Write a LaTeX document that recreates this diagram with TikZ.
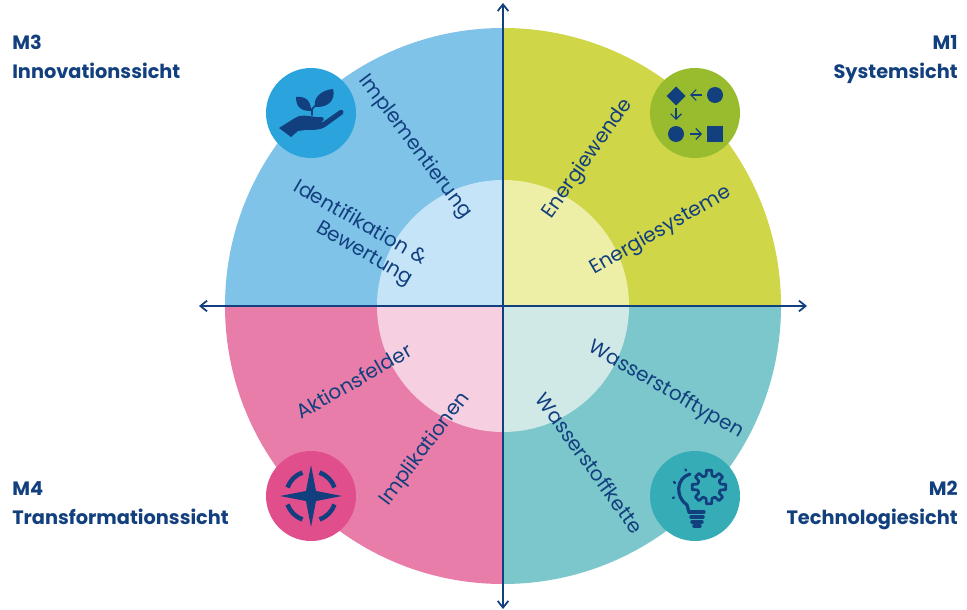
\documentclass[tikz,border=0pt]{standalone}
\usepackage{fontspec}
\setmainfont{Poppins}
\usetikzlibrary{arrows.meta}
\definecolor{navy}{HTML}{123F7E}
\definecolor{qyo}{HTML}{CFD648}\definecolor{qyi}{HTML}{EEEFA6}\definecolor{qyc}{HTML}{98BC2E}
\definecolor{qto}{HTML}{7BC7CB}\definecolor{qti}{HTML}{D0E8E6}\definecolor{qtc}{HTML}{36ADB6}
\definecolor{qpo}{HTML}{E87DAA}\definecolor{qpi}{HTML}{F6CFE1}\definecolor{qpc}{HTML}{E04E8C}
\definecolor{qbo}{HTML}{7FC3E9}\definecolor{qbi}{HTML}{C5E4F8}\definecolor{qbc}{HTML}{2BA3DC}
\tikzset{
 x=0.75pt,y=-0.75pt,
 axisline/.style={draw=navy,line width=1.3pt,{Straight Barb[length=5pt,width=8pt]}-{Straight Barb[length=5pt,width=8pt]}},
 seglabel/.style={text=navy,font=\fontsize{15}{18}\selectfont,align=center,inner sep=0pt},
 headlabel/.style={text=navy,font=\fontsize{14.5}{21.75}\bfseries\selectfont,inner sep=0pt},
 iconarrow/.style={draw=navy,line width=0.9pt,-{Straight Barb[length=4pt,width=8pt]}},
 iconline/.style={draw=navy,line width=1.7pt,line cap=round},
}
\begin{document}
\begin{tikzpicture}
\useasboundingbox (0,0) rectangle (967,610);
\coordinate (c) at (503,306);
% outer quadrants
\fill[qyo] (c) -- (781,306) arc[start angle=0,end angle=-90,x radius=278,y radius=278] -- cycle;
\fill[qto] (c) -- (503,584) arc[start angle=90,end angle=0,x radius=278,y radius=278] -- cycle;
\fill[qpo] (c) -- (225,306) arc[start angle=180,end angle=90,x radius=278,y radius=278] -- cycle;
\fill[qbo] (c) -- (503,28) arc[start angle=-90,end angle=-180,x radius=278,y radius=278] -- cycle;
% inner quadrants
\fill[qyi] (c) -- (629,306) arc[start angle=0,end angle=-90,x radius=126,y radius=126] -- cycle;
\fill[qti] (c) -- (503,432) arc[start angle=90,end angle=0,x radius=126,y radius=126] -- cycle;
\fill[qpi] (c) -- (377,306) arc[start angle=180,end angle=90,x radius=126,y radius=126] -- cycle;
\fill[qbi] (c) -- (503,180) arc[start angle=-90,end angle=-180,x radius=126,y radius=126] -- cycle;
% axes
\coordinate (axL) at (199,306);\coordinate (axR) at (807,306);
\coordinate (axT) at (503,3);\coordinate (axB) at (503,609);
\draw[axisline] (axL) -- (axR);
\draw[axisline] (axT) -- (axB);
% icon discs
\node[circle,fill=qyc,minimum size=67.5pt,inner sep=0pt] (i1) at (695,113) {};
\node[circle,fill=qtc,minimum size=67.5pt,inner sep=0pt] (i2) at (695,496) {};
\node[circle,fill=qbc,minimum size=67.5pt,inner sep=0pt] (i3) at (311,113) {};
\node[circle,fill=qpc,minimum size=67.5pt,inner sep=0pt] (i4) at (311,496) {};
% M1 icon
\fill[navy] (676,86.5) -- (685.5,96) -- (676,105.5) -- (666.5,96) -- cycle;
\fill[navy] (715,95) circle[radius=8];
\fill[navy] (676,134) circle[radius=8];
\fill[navy] (707,126) rectangle (723,142);
\draw[iconarrow] (702,95) -- (690,95);
\draw[iconarrow] (676,108) -- (676,120);
\draw[iconarrow] (690,134) -- (702,134);
% M2 icon: gear
\begin{scope}[shift={(709,487)}]
\foreach \a in {0,45,...,315}{
 \draw[iconline,line width=2pt,line join=round] (\a-22.5:11.5) -- (\a-14:12) -- (\a-9:17) -- (\a+9:17) -- (\a+14:12) -- (\a+22.5:11.5);
}
\end{scope}
% M2 icon: bulb
\draw[iconline,line width=2.4pt] (690,474) .. controls (676,478) and (675,497) .. (687,505) -- (689,512);
\draw[iconline,line width=2.4pt] (689,512) -- (704,512);
\draw[iconline,line width=2.6pt] (691,517) -- (703,517);
\draw[iconline,line width=2.6pt] (692,522) -- (702,522);
\draw[iconline,line width=2.6pt] (694,526) -- (700,526);
\draw[iconline] (685.5,469.5) -- (686,470.5);
\draw[iconline] (674,482) -- (675,483);
\draw[iconline] (673,498) -- (674,497.5);
% M3 icon
\fill[navy] (279,128) -- (295,118) .. controls (300,114) and (308,116) .. (316,117) -- (322,117) .. controls (325,118) and (324,122) .. (320,122) -- (310,122) -- (323,122) -- (340,110) .. controls (344,109) and (344,113) .. (343,114) -- (325,127) .. controls (320,130) and (315,130) .. (305,130) -- (298,131) -- (291,137) -- cycle;
\fill[navy] (296,97) .. controls (296,108) and (302,111) .. (311,111) .. controls (311,100) and (305,96) .. (296,97) -- cycle;
\fill[navy] (333,89) .. controls (336,100) and (328,108) .. (315,107) .. controls (313,97) and (322,90) .. (333,89) -- cycle;
\draw[iconline,line width=1.2pt] (312,115) -- (312,109) -- (316,105);
% M4 icon
\fill[navy] (311,465) -- (316,491) -- (342,496) -- (316,501) -- (311,527) -- (306,501) -- (280,496) -- (306,491) -- cycle;
\begin{scope}[shift={(311,496)},line width=3.4pt,draw=navy]
\draw (20:25) arc[start angle=20,end angle=70,radius=25];
\draw (110:25) arc[start angle=110,end angle=160,radius=25];
\draw (200:25) arc[start angle=200,end angle=250,radius=25];
\draw (290:25) arc[start angle=290,end angle=340,radius=25];
\end{scope}
% segment labels
\node[seglabel,rotate=-53] (l1) at (415,147) {Implementierung};
\node[seglabel,rotate=-30] (l2) at (354,234) {Identifikation \&\\\hspace*{28pt}Bewertung};
\node[seglabel,rotate=55] (l3) at (588,159) {Energiewende};
\node[seglabel,rotate=30] (l4) at (661,231) {Energiesysteme};
\node[seglabel,rotate=-30] (l5) at (666,390) {Wasserstofftypen};
\node[seglabel,rotate=-54] (l6) at (590,463) {Wasserstoffkette};
\node[seglabel,rotate=30] (l7) at (354,381) {Aktionsfelder};
\node[seglabel,rotate=53] (l8) at (425,449) {Implikationen};
% corner headings
\node[headlabel,anchor=north west,align=left] (h3) at (12,35) {M3\\Innovationssicht};
\node[headlabel,anchor=north east,align=right] (h1) at (958,35) {M1\\Systemsicht};
\node[headlabel,anchor=north west,align=left] (h4) at (12,481) {M4\\Transformationssicht};
\node[headlabel,anchor=north east,align=right] (h2) at (958,481) {M2\\Technologiesicht};
\end{tikzpicture}
\end{document}
